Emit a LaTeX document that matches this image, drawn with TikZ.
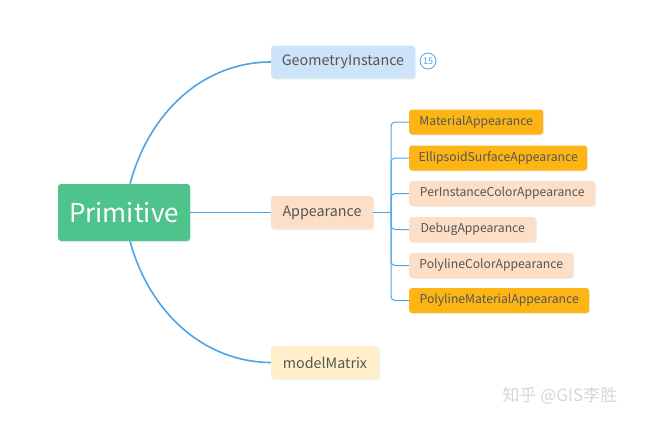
\documentclass[tikz,border=0pt]{standalone}
\usepackage{fontspec}
\setmainfont{Noto Sans CJK SC}
\usetikzlibrary{shadows}

\definecolor{rootgreen}{HTML}{4EC38B}
\definecolor{geoblue}{HTML}{CDE3F9}
\definecolor{peach}{HTML}{FDDFC7}
\definecolor{paleyellow}{HTML}{FFF0CA}
\definecolor{amber}{HTML}{FDB515}
\definecolor{linkblue}{HTML}{4DA5E8}
\definecolor{txtgrey}{HTML}{555555}
\definecolor{wmgrey}{HTML}{D6D6D6}

\begin{document}
\begin{tikzpicture}[x=1pt,y=-1pt,
    box/.style={rounded corners=3pt, inner sep=0pt, text=txtgrey,
      drop shadow={opacity=0.12, shadow xshift=1pt, shadow yshift=-1pt}},
    rootbox/.style={box, fill=rootgreen, text=white, minimum width=132,
      minimum height=57, font=\fontsize{26}{30}\selectfont},
    branchbox/.style={box, minimum height=33, font=\fontsize{14.3}{16}\selectfont},
    leafbox/.style={box, anchor=west, minimum height=25, font=\fontsize{12.2}{14}\selectfont},
    link/.style={linkblue, line width=1.6pt},
    buslink/.style={linkblue, line width=1pt, rounded corners=4pt}]

    \useasboundingbox (0,0) rectangle (650,424);

    % Root and main branches
    \node[rootbox] (root) at (124,212.5) {Primitive};
    \node[branchbox, fill=geoblue, minimum width=144] (geo) at (343,62) {GeometryInstance};
    \node[branchbox, fill=peach, minimum width=102] (app) at (322,212.5) {Appearance};
    \node[branchbox, fill=paleyellow, minimum width=108] (mat) at (325,362.5) {modelMatrix};

    % Count badge next to GeometryInstance
    \node[circle, draw=linkblue, text=linkblue, line width=0.8pt, inner sep=0pt,
      minimum size=16, font=\fontsize{9}{9}\selectfont] (badge) at (428,61) {15};

    % Appearance children: index / y / width / fill / text
    \foreach \i/\y/\w/\col/\txt in {
        1/122/134/amber/MaterialAppearance,
        2/158/178/amber/EllipsoidSurfaceAppearance,
        3/193.5/186/peach/PerInstanceColorAppearance,
        4/229.5/127/peach/DebugAppearance,
        5/265.5/164/peach/PolylineColorAppearance,
        6/300.5/180/amber/PolylineMaterialAppearance} {
        \node[leafbox, fill=\col, minimum width=\w] (leaf\i) at (409,\y) {\txt};
    }

    % Connectors from the root
    \draw[link] ([xshift=6pt]root.north) .. controls (150,110) and (205,62) .. (geo.west);
    \draw[link] ([xshift=6pt]root.south) .. controls (150,314) and (205,362) .. (mat.west);
    \draw[link] (root.east) -- (app.west);

    % Bracket to the children
    \coordinate (bus) at (391,212.5);
    \draw[buslink] (app.east) -- (bus);
    \foreach \i in {1,...,6} {
        \draw[buslink] (bus) |- (leaf\i.west);
    }

    % Watermark
    \node[text=wmgrey, anchor=west, font=\fontsize{17}{17}\selectfont] (mark) at (499,396) {知乎 @GIS李胜};
\end{tikzpicture}
\end{document}
